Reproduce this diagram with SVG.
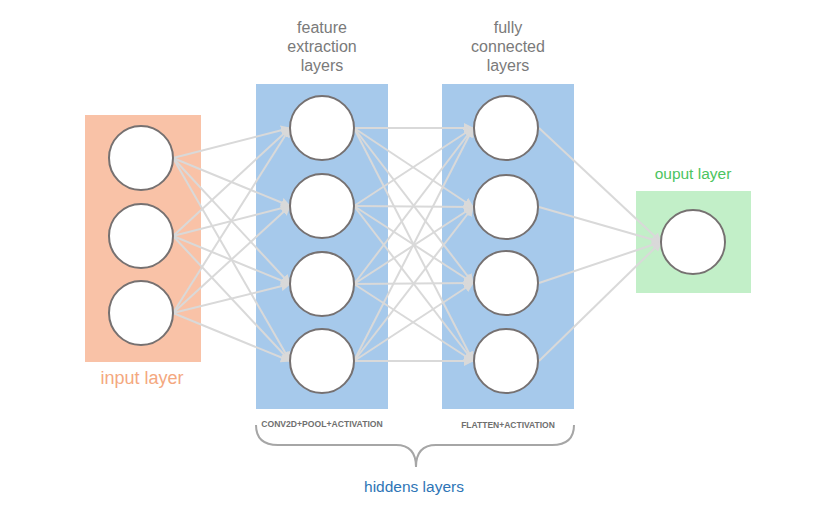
<svg xmlns="http://www.w3.org/2000/svg" width="838" height="525" viewBox="0 0 838 525">
<style>
.node{fill:#fff;stroke:#767171;stroke-width:2}
.ln{stroke:#d9d9d9;stroke-width:2;fill:none;marker-end:url(#ah)}
.t{font-family:"Liberation Sans",Arial,sans-serif;text-anchor:middle}
.title{font-size:16px;fill:#7a7a7a}
.small{font-weight:bold;fill:#6f6f6f}
</style>
<defs>
<marker id="ah" markerUnits="userSpaceOnUse" markerWidth="10" markerHeight="10" viewBox="0 0 10 10" refX="9" refY="5" orient="auto">
<path d="M0,0 L10,5 L0,10 z" fill="#d9d9d9"/>
</marker>
</defs>
<rect width="838" height="525" fill="#fff"/>
<g id="layer-rects">
<rect x="85" y="115" width="116" height="247" fill="#F9C2A7"/>
<rect x="256" y="84" width="132" height="325" fill="#A6C9EB"/>
<rect x="442" y="84" width="132" height="325" fill="#A6C9EB"/>
<rect x="636" y="191" width="115" height="102" fill="#C2EFC8"/>
</g>
<g id="connectors">
<line class="ln" x1="173" y1="158" x2="290" y2="128"/>
<line class="ln" x1="173" y1="158" x2="290" y2="206"/>
<line class="ln" x1="173" y1="158" x2="290" y2="284"/>
<line class="ln" x1="173" y1="158" x2="290" y2="361"/>
<line class="ln" x1="173" y1="236" x2="290" y2="128"/>
<line class="ln" x1="173" y1="236" x2="290" y2="206"/>
<line class="ln" x1="173" y1="236" x2="290" y2="284"/>
<line class="ln" x1="173" y1="236" x2="290" y2="361"/>
<line class="ln" x1="173" y1="313" x2="290" y2="128"/>
<line class="ln" x1="173" y1="313" x2="290" y2="206"/>
<line class="ln" x1="173" y1="313" x2="290" y2="284"/>
<line class="ln" x1="173" y1="313" x2="290" y2="361"/>
<line class="ln" x1="354" y1="128" x2="473" y2="128"/>
<line class="ln" x1="354" y1="128" x2="473" y2="207"/>
<line class="ln" x1="354" y1="128" x2="473" y2="283"/>
<line class="ln" x1="354" y1="128" x2="473" y2="361"/>
<line class="ln" x1="354" y1="206" x2="473" y2="128"/>
<line class="ln" x1="354" y1="206" x2="473" y2="207"/>
<line class="ln" x1="354" y1="206" x2="473" y2="283"/>
<line class="ln" x1="354" y1="206" x2="473" y2="361"/>
<line class="ln" x1="354" y1="284" x2="473" y2="128"/>
<line class="ln" x1="354" y1="284" x2="473" y2="207"/>
<line class="ln" x1="354" y1="284" x2="473" y2="283"/>
<line class="ln" x1="354" y1="284" x2="473" y2="361"/>
<line class="ln" x1="354" y1="361" x2="473" y2="128"/>
<line class="ln" x1="354" y1="361" x2="473" y2="207"/>
<line class="ln" x1="354" y1="361" x2="473" y2="283"/>
<line class="ln" x1="354" y1="361" x2="473" y2="361"/>
<line class="ln" x1="539" y1="128" x2="661" y2="242"/>
<line class="ln" x1="539" y1="207" x2="661" y2="242"/>
<line class="ln" x1="539" y1="283" x2="661" y2="242"/>
<line class="ln" x1="539" y1="361" x2="661" y2="242"/>
</g>
<g id="input-layer">
<circle class="node" cx="141" cy="158" r="32"/>
<circle class="node" cx="141" cy="236" r="32"/>
<circle class="node" cx="141" cy="313" r="32"/>
<text class="t" x="142" y="384" font-size="18" fill="#F4A880">input layer</text>
</g>
<g id="feature-layer">
<circle class="node" cx="322" cy="128" r="32"/>
<circle class="node" cx="322" cy="206" r="32"/>
<circle class="node" cx="322" cy="284" r="32"/>
<circle class="node" cx="322" cy="361" r="32"/>
<text class="t title" x="322" y="33">feature</text>
<text class="t title" x="322" y="52">extraction</text>
<text class="t title" x="322" y="71">layers</text>
<text class="t small" x="322" y="427" font-size="8.6">CONV2D+POOL+ACTIVATION</text>
</g>
<g id="fc-layer">
<circle class="node" cx="506" cy="128" r="32"/>
<circle class="node" cx="506" cy="207" r="32"/>
<circle class="node" cx="506" cy="283" r="32"/>
<circle class="node" cx="506" cy="361" r="32"/>
<text class="t title" x="508" y="33">fully</text>
<text class="t title" x="508" y="52">connected</text>
<text class="t title" x="508" y="71">layers</text>
<text class="t small" x="508" y="428" font-size="8.5">FLATTEN+ACTIVATION</text>
</g>
<g id="output-layer">
<circle class="node" cx="693" cy="242" r="32"/>
<text class="t" x="693" y="179" font-size="15.5" fill="#4CC460">ouput layer</text>
</g>
<g id="hidden-brace">
<path d="M256,425 Q256,445 278,445 L396,445 Q416,445 416,467 Q416,445 436,445 L552,445 Q574,445 574,425" fill="none" stroke="#a6a6a6" stroke-width="2"/>
<text class="t" x="414" y="492" font-size="15.5" fill="#2E75B6">hiddens layers</text>
</g>
</svg>
